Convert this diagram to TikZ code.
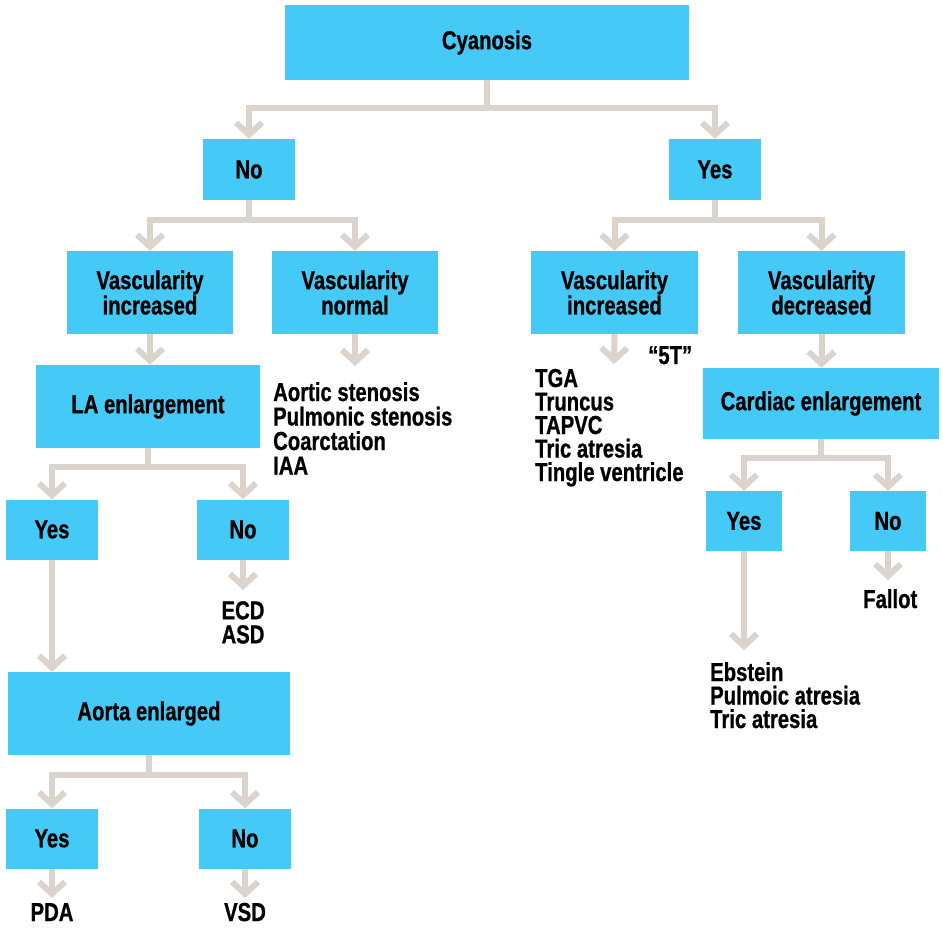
\documentclass[tikz,border=0pt]{standalone}
\usepackage{fontspec}
\setmainfont{Liberation Sans}[FakeStretch=0.78, FakeBold=0.8]
\usetikzlibrary{arrows.meta}
\definecolor{boxblue}{RGB}{69,201,246}
\definecolor{linkgray}{RGB}{220,211,204}
\tikzset{
  box/.style={fill=boxblue, draw=none, inner sep=0pt, align=center,
    font=\fontsize{26}{23}\selectfont\bfseries},
  listtext/.style={inner sep=0pt, anchor=base west,
    font=\fontsize{26}{24}\selectfont\bfseries},
  centertext/.style={inner sep=0pt, anchor=base,
    font=\fontsize{26}{24}\selectfont\bfseries},
  link/.style={draw=linkgray, line width=6pt, line join=miter,
    -{Straight Barb[length=12pt,width=26pt]}},
}
\begin{document}
\begin{tikzpicture}[x=1pt,y=-1pt]
\useasboundingbox (0,0) rectangle (943,928);

% decision boxes
\node[box, minimum width=404, minimum height=75] (cy) at (487,42.5) {\raisebox{-2pt}{Cyanosis}};
\node[box, minimum width=92, minimum height=61] (no1) at (249,169.5) {No};
\node[box, minimum width=92, minimum height=61] (yes1) at (715,169.5) {Yes};
\node[box, minimum width=166, minimum height=83] (vi1) at (150,292.5) {Vascularity\\increased};
\node[box, minimum width=166, minimum height=83] (vn) at (355,292.5) {Vascularity\\normal};
\node[box, minimum width=167, minimum height=83] (vi2) at (614.5,292.5) {Vascularity\\increased};
\node[box, minimum width=167, minimum height=83] (vd) at (821.5,292.5) {Vascularity\\decreased};
\node[box, minimum width=224, minimum height=83] (la) at (148,406.5) {\raisebox{-2pt}{LA enlargement}};
\node[box, minimum width=236, minimum height=71] (ce) at (821,403.5) {\raisebox{-2pt}{Cardiac enlargement}};
\node[box, minimum width=92, minimum height=60] (yes2) at (52,529.5) {Yes};
\node[box, minimum width=92, minimum height=60] (no2) at (243,529.5) {No};
\node[box, minimum width=76, minimum height=60] (yes3) at (744,521) {Yes};
\node[box, minimum width=76, minimum height=60] (no3) at (888,521) {No};
\node[box, minimum width=282, minimum height=83] (ae) at (149,713.5) {\raisebox{-2pt}{Aorta enlarged}};
\node[box, minimum width=92, minimum height=60] (yes4) at (52,838.5) {Yes};
\node[box, minimum width=92, minimum height=60] (no4) at (245,838.5) {No};

% outcome lists
\node[listtext] (vnA) at (273,401) {Aortic stenosis};
\node[listtext] (vnB) at (273,425.5) {Pulmonic stenosis};
\node[listtext] (vnC) at (273,450) {Coarctation};
\node[listtext] (vnD) at (273,474.5) {IAA};

\node[listtext] (fiveT) at (648,364) {“5T”};
\node[listtext] (viA) at (535,387) {TGA};
\node[listtext] (viB) at (535,410.5) {Truncus};
\node[listtext] (viC) at (535,434) {TAPVC};
\node[listtext] (viD) at (535,457.5) {Tric atresia};
\node[listtext] (viE) at (535,481) {Tingle ventricle};

\node[listtext] (ceA) at (710,681) {Ebstein};
\node[listtext] (ceB) at (710,704.5) {Pulmoic atresia};
\node[listtext] (ceC) at (710,728) {Tric atresia};
\node[listtext] (fallot) at (863,608) {Fallot};

\node[centertext, anchor=north, align=center] (ecd) at (243,601) {ECD\\ASD};
\node[centertext] (pda) at (52,921) {PDA};
\node[centertext] (vsd) at (245,921) {VSD};

% free arrow ends above the outcome lists
\coordinate (vnEnd) at (355,366);
\coordinate (viEnd) at (614,364);
\coordinate (no2End) at (243,590);
\coordinate (yes3End) at (744,650);
\coordinate (no3End) at (888,580);
\coordinate (yes4End) at (52,898);
\coordinate (no4End) at (245,898);

% connectors
\draw[link] (cy.south) -- ++(0,28) -| (no1.north);
\draw[link] (cy.south) -- ++(0,28) -| (yes1.north);
\draw[link] (no1.south) -- ++(0,20) -| (vi1.north);
\draw[link] (no1.south) -- ++(0,20) -| (vn.north);
\draw[link] (yes1.south) -- ++(0,20) -| (vi2.north);
\draw[link] (yes1.south) -- ++(0,20) -| (vd.north);
\draw[link] (vi1.south) -- (vi1.south |- la.north);
\draw[link] (vn.south) -- (vnEnd);
\draw[link] (vi2.south) -- (viEnd);
\draw[link] (vd.south) -- (vd.south |- ce.north);
\draw[link] (la.south) -- ++(0,19) -| (yes2.north);
\draw[link] (la.south) -- ++(0,19) -| (no2.north);
\draw[link] (ce.south) -- ++(0,19) -| (yes3.north);
\draw[link] (ce.south) -- ++(0,19) -| (no3.north);
\draw[link] (yes2.south) -- (yes2.south |- ae.north);
\draw[link] (no2.south) -- (no2End);
\draw[link] (yes3.south) -- (yes3End);
\draw[link] (no3.south) -- (no3End);
\draw[link] (ae.south) -- ++(0,20) -| (yes4.north);
\draw[link] (ae.south) -- ++(0,20) -| (no4.north);
\draw[link] (yes4.south) -- (yes4End);
\draw[link] (no4.south) -- (no4End);
\end{tikzpicture}
\end{document}
